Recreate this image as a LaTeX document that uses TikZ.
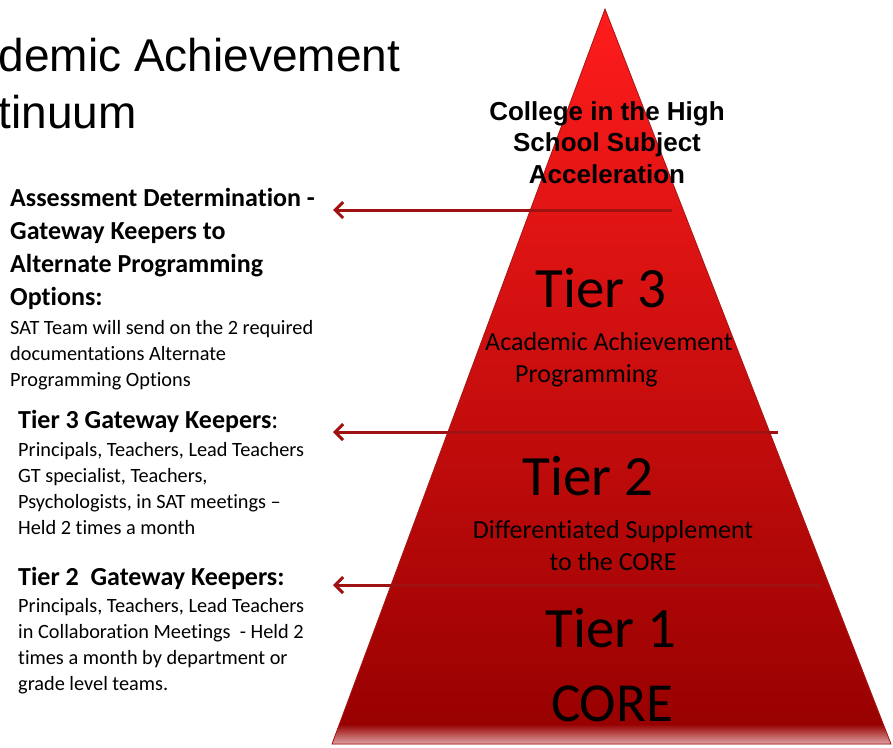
\documentclass[tikz,border=0pt]{standalone}
\usepackage{fontspec}
\setmainfont{Carlito}[Ligatures=CommonOff]
\newfontfamily\arialfont{Liberation Sans}
\usepackage{tikz}
\usetikzlibrary{arrows.meta}
\definecolor{pyrtop}{RGB}{255,28,28}
\definecolor{pyrmid}{RGB}{212,0,0}
\definecolor{pyrbot}{RGB}{150,0,0}
\definecolor{pyrfade}{RGB}{226,170,170}
\definecolor{pyredge}{RGB}{165,22,22}
\definecolor{arrowred}{RGB}{160,18,18}
\tikzset{
  keeper/.style={arrowred, line width=3pt, -{Straight Barb[length=8pt,width=16pt]}},
  tiername/.style={inner sep=0pt, anchor=base, font=\fontsize{57}{60}\selectfont},
  tierblurb/.style={inner sep=0pt, anchor=base, align=center, font=\fontsize{26}{32}\selectfont},
  keephead/.style={inner sep=0pt, anchor=base west, align=left, font=\fontsize{26}{33}\selectfont\bfseries},
  keepbody/.style={inner sep=0pt, anchor=base west, align=left, font=\fontsize{20.3}{26}\selectfont},
}

\begin{document}
\begin{tikzpicture}[x=1pt,y=-1pt]
  \useasboundingbox (0,0) rectangle (893,747);

  % pyramid
  \coordinate (apex) at (605,9);
  \coordinate (baseL) at (332,744);
  \coordinate (baseR) at (891,744);
  \shade[top color=pyrtop, middle color=pyrmid, bottom color=pyrbot] (apex) -- (baseR) -- (baseL) -- cycle;
  \begin{scope}
    \clip (apex) -- (baseR) -- (baseL) -- cycle;
    \shade[top color=pyrbot, bottom color=pyrfade] (320,724) rectangle (900,745);
  \end{scope}
  \draw[pyredge, line width=0.8pt] (apex) -- (baseR) -- (baseL) -- cycle;

  % gateway arrows
  \coordinate (gate3in) at (672,210);
  \coordinate (gate3out) at (333,210);
  \coordinate (gate2in) at (778,432);
  \coordinate (gate2out) at (333,432);
  \coordinate (gate1in) at (822,585);
  \coordinate (gate1out) at (333,585);
  \draw[keeper] (gate3in) -- (gate3out);
  \draw[keeper] (gate2in) -- (gate2out);
  \draw[keeper] (gate1in) -- (gate1out);

  % title
  \node[inner sep=0pt, anchor=base west, font=\arialfont\fontsize{46}{50}\selectfont] (title1) at (-1.5,71) {demic Achievement};
  \node[inner sep=0pt, anchor=base west, font=\arialfont\fontsize{46}{50}\selectfont] (title2) at (-1.5,128) {tinuum};

  % pyramid labels (base = last line)
  \node[inner sep=0pt, anchor=base, align=center, font=\arialfont\bfseries\fontsize{26}{31.5}\selectfont] (college) at (607,183) {College in the High\\School Subject\\Acceleration};
  \node[tiername] (tier3) at (601,307) {Tier 3};
  \node[inner sep=0pt, anchor=base west, font=\fontsize{26}{32}\selectfont] (acad1) at (485,350) {Academic Achievement};
  \node[inner sep=0pt, anchor=base west, font=\fontsize{26}{32}\selectfont] (acad2) at (515,382) {Programming};
  \node[tiername] (tier2) at (588,495) {Tier 2};
  \node[tierblurb] (diff) at (613,570) {Differentiated Supplement\\to the CORE};
  \node[tiername] (tier1) at (611,647) {Tier 1};
  \node[tiername, font=\fontsize{55}{60}\selectfont] (core) at (612,721) {CORE};

  % gateway keepers (base = last line)
  \node[keephead] (assesshead) at (10,305) {Assessment Determination -\\Gateway Keepers to\\Alternate Programming\\Options:};
  \node[keepbody] (assessbody) at (10,386) {SAT Team will send on the 2 required\\documentations Alternate\\Programming Options};
  \node[keephead] (t3head) at (18,428) {Tier 3 Gateway Keepers{\mdseries :}};
  \node[keepbody] (t3body) at (18,534) {Principals, Teachers, Lead Teachers\\GT specialist, Teachers,\\Psychologists, in SAT meetings --\\Held 2 times a month};
  \node[keephead] (t2head) at (18,585) {Tier 2~ Gateway Keepers:};
  \node[keepbody] (t2body) at (18,690) {Principals, Teachers, Lead Teachers\\in Collaboration Meetings~ - Held 2\\times a month by department or\\grade level teams.};
\end{tikzpicture}
\end{document}
